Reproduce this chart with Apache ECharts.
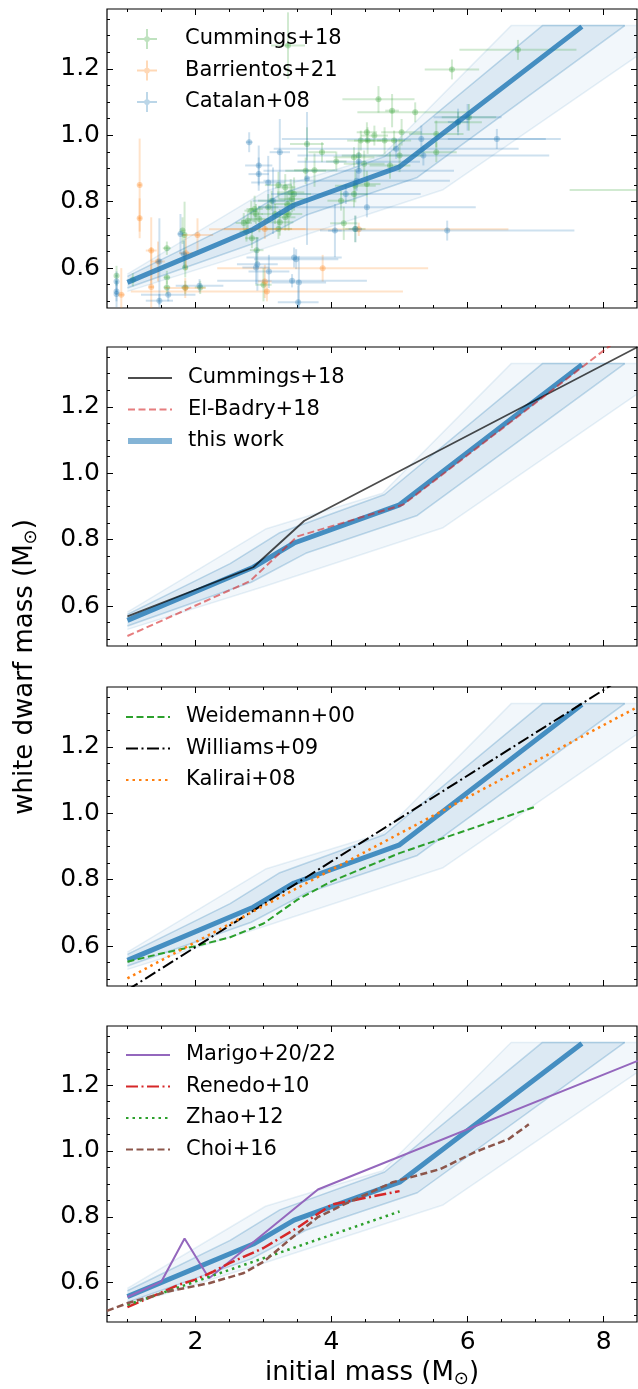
<!DOCTYPE html>
<html><head><meta charset="utf-8">
<script src="https://cdn.jsdelivr.net/npm/echarts@6.0.0/dist/echarts.min.js"></script>
<style>html,body{margin:0;padding:0;background:#fff}#c{width:638px;height:1389px}</style>
</head><body><div id="c"></div><script>
// ---------- tick values ----------
const xTicks = [2, 4, 6, 8];
const xMinorTicks = [1, 1.5, 2, 2.5, 3, 3.5, 4, 4.5, 5, 5.5, 6, 6.5, 7, 7.5, 8];
const yTicks = [0.6, 0.8, 1.0, 1.2];
const yMinorTicks = [0.5, 0.55, 0.6, 0.65, 0.7, 0.75, 0.8, 0.85, 0.9, 0.95, 1.0, 1.05, 1.1, 1.15, 1.2, 1.25, 1.3, 1.35];

// ---------- this work: IFMR and credible bands ----------
const thisWork = [[1.0, 0.557], [2.85, 0.717], [3.45, 0.79], [5.0, 0.905], [7.68, 1.327]];
const innerUpper = [[1.0, 0.575], [2.51, 0.728], [3.24, 0.821], [4.78, 0.936], [7.1, 1.33], [8.31, 1.33]];
const innerLower = [[1.0, 0.54], [2.82, 0.672], [3.62, 0.759], [5.26, 0.873], [8.31, 1.33]];
const outerUpper = [[1.0, 0.582], [3.03, 0.832], [4.75, 0.94], [6.64, 1.33], [8.49, 1.33]];
const outerLower = [[1.0, 0.53], [3.02, 0.66], [5.64, 0.836], [8.49, 1.238]];

// ---------- panel 1: data points [x, y, xerr, yerr] ----------
const cummings18Points = [
  [0.84,0.577,0.02,0.03],[1.08,0.565,0.05,0.02],[1.58,0.66,0.06,0.02],[1.58,0.572,0.05,0.02],
  [1.58,0.542,0.05,0.02],[1.84,0.70,0.03,0.1],[1.81,0.713,0.03,0.04],[1.85,0.602,0.04,0.03],
  [1.85,0.542,0.06,0.02],[2.07,0.542,0.08,0.02],[2.71,0.736,0.12,0.03],[2.75,0.71,0.1,0.03],
  [2.82,0.773,0.1,0.03],[2.87,0.778,0.12,0.04],[2.77,0.743,0.1,0.03],[2.89,0.763,0.1,0.03],
  [2.94,0.748,0.15,0.04],[2.83,0.69,0.1,0.03],[2.9,0.654,0.1,0.04],[3.0,0.55,0.12,0.05],
  [3.07,0.783,0.15,0.04],[3.17,0.763,0.2,0.03],[3.24,0.738,0.2,0.04],[3.32,0.753,0.15,0.04],
  [3.37,0.763,0.2,0.05],[3.42,0.808,0.2,0.04],[3.12,0.803,0.2,0.03],[3.22,0.85,0.2,0.04],
  [3.32,0.843,0.15,0.04],[3.40,0.828,0.2,0.04],[3.45,0.823,0.25,0.05],[3.35,0.793,0.2,0.04],
  [3.22,0.718,0.2,0.03],[3.62,0.893,0.3,0.04],[3.64,0.974,0.25,0.05],[3.75,0.895,0.3,0.05],
  [3.86,0.949,0.2,0.03],[4.07,0.921,0.15,0.03],[4.14,0.803,0.2,0.03],[4.18,0.735,0.2,0.05],
  [4.35,0.718,0.15,0.04],[4.33,0.823,0.2,0.04],[4.35,0.848,0.3,0.05],[4.33,0.934,0.3,0.03],
  [4.40,0.939,0.25,0.04],[4.48,0.914,0.3,0.04],[4.52,0.853,0.2,0.04],[4.43,0.984,0.2,0.03],
  [4.52,1.009,0.15,0.03],[4.53,0.984,0.2,0.04],[4.63,0.999,0.2,0.03],[4.78,0.984,0.3,0.04],
  [4.92,0.984,0.25,0.03],[5.03,1.009,0.3,0.04],[5.0,0.939,0.35,0.05],[4.86,0.909,0.3,0.04],
  [4.89,1.074,0.1,0.05],[5.23,1.069,0.85,0.03],[4.69,1.108,0.53,0.04],[5.77,1.198,0.4,0.03],
  [6.74,1.257,0.86,0.03],[5.86,1.039,0.35,0.03],[6.02,1.054,0.4,0.04],[5.54,1.004,0.4,0.04],
  [5.54,0.949,0.3,0.03],[9.3,0.835,1.8,0.02],[3.36,1.27,0.25,0.1]
];
const barrientos21Points = [
  [0.91,0.52,0.05,0.08],[1.18,0.85,0.03,0.14],[1.18,0.75,0.03,0.06],[1.35,0.653,0.08,0.1],
  [1.35,0.543,0.04,0.12],[1.45,0.62,0.1,0.06],[1.86,0.645,0.1,0.05],[2.03,0.70,0.23,0.05],
  [1.85,0.54,0.3,0.03],[3.05,0.53,2.0,0.03],[4.4,0.717,2.2,0.02],[3.87,0.60,1.55,0.04],
  [3.02,0.56,0.1,0.05],[3.02,0.718,0.6,0.03]
];
const catalan08Points = [
  [0.84,0.522,0.02,0.04],[0.84,0.53,0.02,0.03],[0.84,0.56,0.02,0.03],[1.47,0.502,0.2,0.02],
  [1.47,0.62,0.02,0.13],[1.78,0.703,0.04,0.06],[1.83,0.642,0.05,0.04],[2.06,0.547,0.35,0.02],
  [2.79,0.979,0.05,0.03],[2.93,0.909,0.2,0.06],[2.93,0.883,0.15,0.05],[3.24,0.949,0.15,0.1],
  [3.07,0.858,0.25,0.08],[3.14,0.803,0.3,0.1],[3.45,0.632,0.7,0.03],[3.52,0.557,0.4,0.08],
  [3.51,0.497,0.3,0.05],[2.91,0.612,0.3,0.08],[2.89,0.602,0.2,0.05],[3.08,0.59,0.3,0.05],
  [3.64,0.87,0.03,0.2],[5.35,0.939,1.85,0.03],[5.32,0.989,2.05,0.04],[4.52,0.783,1.6,0.03],
  [4.21,0.823,1.1,0.03],[4.37,0.863,1.37,0.03],[4.40,0.893,1.4,0.03],[4.4,0.92,0.9,0.03],
  [4.95,0.959,1.8,0.03],[5.7,0.713,1.87,0.03],[3.48,0.627,0.62,0.03],[3.42,0.562,1.1,0.02],
  [4.05,0.713,0.1,0.08],[4.35,0.718,0.1,0.04],[6.43,0.989,0.72,0.03],[6.0,1.054,0.5,0.04],
  [5.86,1.04,0.15,0.04],[1.6,0.52,0.4,0.02]
];

// ---------- panel 2 ----------
const cummings18Relation = [[1.0, 0.569], [2.85, 0.717], [3.6, 0.857], [8.5, 1.38]];
const elBadry18 = [[1.0, 0.51], [2.8, 0.675], [3.5, 0.81], [5.05, 0.905], [8.1, 1.385]];
// ---------- panel 3 ----------
const weidemann00 = [[1.0,0.553],[1.5,0.578],[2.0,0.60],[2.5,0.626],[3.0,0.668],[3.5,0.74],[4.0,0.795],[5.0,0.88],[6.0,0.95],[7.0,1.02]];
const williams09 = [[1.0, 0.468], [8.5, 1.436]];
const kalirai08 = [[1.0, 0.503], [8.5, 1.320]];
// ---------- panel 4 ----------
const marigo2022 = [[1.0,0.556],[1.5,0.603],[1.84,0.734],[2.2,0.613],[3.8,0.883],[8.5,1.274]];
const renedo10 = [[1.0,0.525],[1.5,0.570],[1.75,0.593],[2.0,0.609],[2.25,0.632],[2.5,0.659],[3.0,0.705],[3.5,0.767],[4.0,0.837],[5.0,0.878]];
const zhao12 = [[1.0, 0.532], [5.0, 0.816]];
const choi16 = [[0.7,0.514],[1.0,0.537],[1.6,0.573],[2.2,0.598],[2.7,0.628],[3.0,0.663],[3.4,0.733],[3.8,0.799],[4.2,0.839],[4.9,0.905],[5.6,0.945],[6.1,0.996],[6.6,1.036],[6.9,1.081]];

// ---------- layout ----------
const FONT = 'DejaVu Sans';
const X_MIN = 0.7, X_MAX = 8.49, Y_MIN = 0.48, Y_MAX = 1.38;
const tops = [9, 347, 687, 1026];
const PH = 299;

const grids = tops.map(t => ({left: 107, width: 530, top: t, height: PH, show: true, borderColor: '#000', borderWidth: 1.2, backgroundColor: 'transparent'}));

function xAx(gi, pos, ticks, len, labels) {
  const a = {type: 'value', gridIndex: gi, position: pos, min: X_MIN, max: X_MAX,
    axisLine: {show: false, onZero: false}, splitLine: {show: false},
    axisTick: {show: true, inside: true, length: len, customValues: ticks, lineStyle: {color: '#000', width: 1}},
    axisLabel: {show: labels, customValues: ticks, margin: 8, color: '#000', fontFamily: FONT, fontSize: 25}};
  if (labels) {
    a.name = 'initial mass (M{s|⊙})';
    a.nameLocation = 'middle';
    a.nameGap = 36;
    a.nameTextStyle = {fontFamily: FONT, fontSize: 26, color: '#000', rich: {s: {fontFamily: FONT, fontSize: 18, color: '#000', padding: [12, 0, 0, 0]}}};
  }
  return a;
}
function yAx(gi, pos, ticks, len, labels) {
  return {type: 'value', gridIndex: gi, position: pos, min: Y_MIN, max: Y_MAX,
    axisLine: {show: false, onZero: false}, splitLine: {show: false},
    axisTick: {show: true, inside: true, length: len, customValues: ticks, lineStyle: {color: '#000', width: 1}},
    axisLabel: {show: labels, customValues: ticks, margin: 7, color: '#000', fontFamily: FONT, fontSize: 25, formatter: v => v.toFixed(1)}};
}
const xAxes = [], yAxes = [];
for (let i = 0; i < 4; i++) {
  xAxes.push(xAx(i, 'bottom', xTicks, 6, i === 3), xAx(i, 'bottom', xMinorTicks, 3, false), xAx(i, 'top', xTicks, 6, false), xAx(i, 'top', xMinorTicks, 3, false));
  yAxes.push(yAx(i, 'left', yTicks, 6, true), yAx(i, 'left', yMinorTicks, 3, false), yAx(i, 'right', yTicks, 6, false), yAx(i, 'right', yMinorTicks, 3, false));
}

// ---------- series builders ----------
function bandSeries(upper, lower, fill, gi) {
  return {type: 'custom', xAxisIndex: 4 * gi, yAxisIndex: 4 * gi, clip: true, silent: true,
    data: [upper[0]],
    renderItem(params, api) {
      const pts = upper.concat(lower.slice().reverse()).map(p => api.coord(p));
      return {type: 'polygon', shape: {points: pts}, style: {fill: fill, stroke: null}};
    }};
}
function lineSeries(name, data, gi, lineStyle) {
  return {type: 'line', name, data, xAxisIndex: 4 * gi, yAxisIndex: 4 * gi, symbol: 'none', showSymbol: false,
    itemStyle: {color: lineStyle.color}, lineStyle, silent: true, clip: true, emphasis: {disabled: true}};
}
function errSeries(name, pts, color, gi) {
  return {type: 'custom', name, data: pts, xAxisIndex: 4 * gi, yAxisIndex: 4 * gi, clip: true, silent: true,
    itemStyle: {color},
    encode: {x: 0, y: 1},
    renderItem(params, api) {
      const x = api.value(0), y = api.value(1), xe = api.value(2), ye = api.value(3);
      const c = api.coord([x, y]), l = api.coord([x - xe, y]), r = api.coord([x + xe, y]);
      const t = api.coord([x, y + ye]), b = api.coord([x, y - ye]);
      return {type: 'group', children: [
        {type: 'line', shape: {x1: l[0], y1: l[1], x2: r[0], y2: r[1]}, style: {stroke: color, lineWidth: 2, opacity: 0.22}},
        {type: 'line', shape: {x1: t[0], y1: t[1], x2: b[0], y2: b[1]}, style: {stroke: color, lineWidth: 2, opacity: 0.22}},
        {type: 'circle', shape: {cx: c[0], cy: c[1], r: 3}, style: {fill: color, opacity: 0.3}}
      ]};
    }};
}

const series = [];
const BLUE = '#1f77b4';
function addThisWork(gi) {
  series.push(bandSeries(outerUpper, outerLower, 'rgba(31,119,180,0.06)', gi));
  series.push(bandSeries(innerUpper, innerLower, 'rgba(31,119,180,0.10)', gi));
  series.push(lineSeries('ou' + gi, outerUpper, gi, {color: 'rgba(31,119,180,0.10)', width: 1.5}));
  series.push(lineSeries('ol' + gi, outerLower, gi, {color: 'rgba(31,119,180,0.10)', width: 1.5}));
  series.push(lineSeries('iu' + gi, innerUpper, gi, {color: 'rgba(31,119,180,0.25)', width: 1.5}));
  series.push(lineSeries('il' + gi, innerLower, gi, {color: 'rgba(31,119,180,0.25)', width: 1.5}));
}
// panel 1
addThisWork(0);
series.push(errSeries('Cummings+18', cummings18Points, '#2ca02c', 0));
series.push(errSeries('Barrientos+21', barrientos21Points, '#ff7f0e', 0));
series.push(errSeries('Catalan+08', catalan08Points, BLUE, 0));
series.push(lineSeries('this work 1', thisWork, 0, {color: 'rgba(31,119,180,0.8)', width: 5}));
// panel 2
addThisWork(1);
series.push(lineSeries('this work', thisWork, 1, {color: 'rgba(31,119,180,0.8)', width: 5}));
series.push(lineSeries('Cummings+18 ', cummings18Relation, 1, {color: 'rgba(0,0,0,0.7)', width: 1.8}));
series.push(lineSeries('El-Badry+18', elBadry18, 1, {color: 'rgba(214,39,40,0.6)', width: 2, type: [7, 3.5]}));
// panel 3
addThisWork(2);
series.push(lineSeries('this work 3', thisWork, 2, {color: 'rgba(31,119,180,0.8)', width: 5}));
series.push(lineSeries('Weidemann+00', weidemann00, 2, {color: '#2ca02c', width: 2, type: [7, 3.5]}));
series.push(lineSeries('Williams+09', williams09, 2, {color: '#000', width: 2, type: [12, 3.5, 2, 3.5]}));
series.push(lineSeries('Kalirai+08', kalirai08, 2, {color: '#ff7f0e', width: 2.5, type: [2.5, 4]}));
// panel 4
addThisWork(3);
series.push(lineSeries('this work 4', thisWork, 3, {color: 'rgba(31,119,180,0.8)', width: 5}));
series.push(lineSeries('Marigo+20/22', marigo2022, 3, {color: '#9467bd', width: 2}));
series.push(lineSeries('Renedo+10', renedo10, 3, {color: '#d62728', width: 2.5, type: [12, 3.5, 2, 3.5]}));
series.push(lineSeries('Zhao+12', zhao12, 3, {color: '#2ca02c', width: 2.5, type: [2.5, 4]}));
series.push(lineSeries('Choi+16', choi16, 3, {color: '#8c564b', width: 2.5, type: [7, 3.5]}));

const crossIcon = 'path://M0,9.5H21V11.5H0Z M9.5,0H11.5V21H9.5Z M13.5,10.5A3 3 0 1 1 7.5 10.5A3 3 0 1 1 13.5 10.5Z';
function legend(left, top, data, hideSymbol) {
  const lg = {orient: 'vertical', left, top, padding: 0, itemWidth: 44, itemHeight: 20, itemGap: 10.5,
    selectedMode: false, formatter: n => '{p| }' + n.trim(),
    textStyle: {fontFamily: FONT, fontSize: 21, color: '#000', lineHeight: 21,
      rich: {p: {width: 11, fontSize: 21, lineHeight: 21}}},
    data};
  if (hideSymbol) lg.itemStyle = {opacity: 0};
  return lg;
}
const legends = [
  legend(137, 28.5, [
    {name: 'Cummings+18', icon: crossIcon, itemStyle: {color: 'rgba(44,160,44,0.3)'}},
    {name: 'Barrientos+21', icon: crossIcon, itemStyle: {color: 'rgba(255,127,14,0.3)'}},
    {name: 'Catalan+08', icon: crossIcon, itemStyle: {color: 'rgba(31,119,180,0.3)'}}], false),
  legend(125, 367.5, [{name: 'Cummings+18 '}, {name: 'El-Badry+18'}, {name: 'this work', lineStyle: {color: 'rgba(31,119,180,0.55)', width: 6}}], true),
  legend(125, 706.5, [{name: 'Weidemann+00'}, {name: 'Williams+09'}, {name: 'Kalirai+08'}], true),
  legend(125, 1044.5, [{name: 'Marigo+20/22'}, {name: 'Renedo+10'}, {name: 'Zhao+12'}, {name: 'Choi+16'}], true)
];

const chart = echarts.init(document.getElementById('c'), null, {renderer: 'canvas'});
chart.setOption({
  animation: false,
  backgroundColor: '#fff',
  grid: grids,
  xAxis: xAxes,
  yAxis: yAxes,
  legend: legends,
  series,
  graphic: [{type: 'text', x: 25, y: 667, rotation: Math.PI / 2,
    style: {text: 'white dwarf mass (M{s|⊙})', fontFamily: FONT, fontSize: 26, fill: '#000', align: 'center', verticalAlign: 'middle',
      rich: {s: {fontFamily: FONT, fontSize: 18, fill: '#000', padding: [12, 0, 0, 0]}}}}]
});
</script></body></html>
